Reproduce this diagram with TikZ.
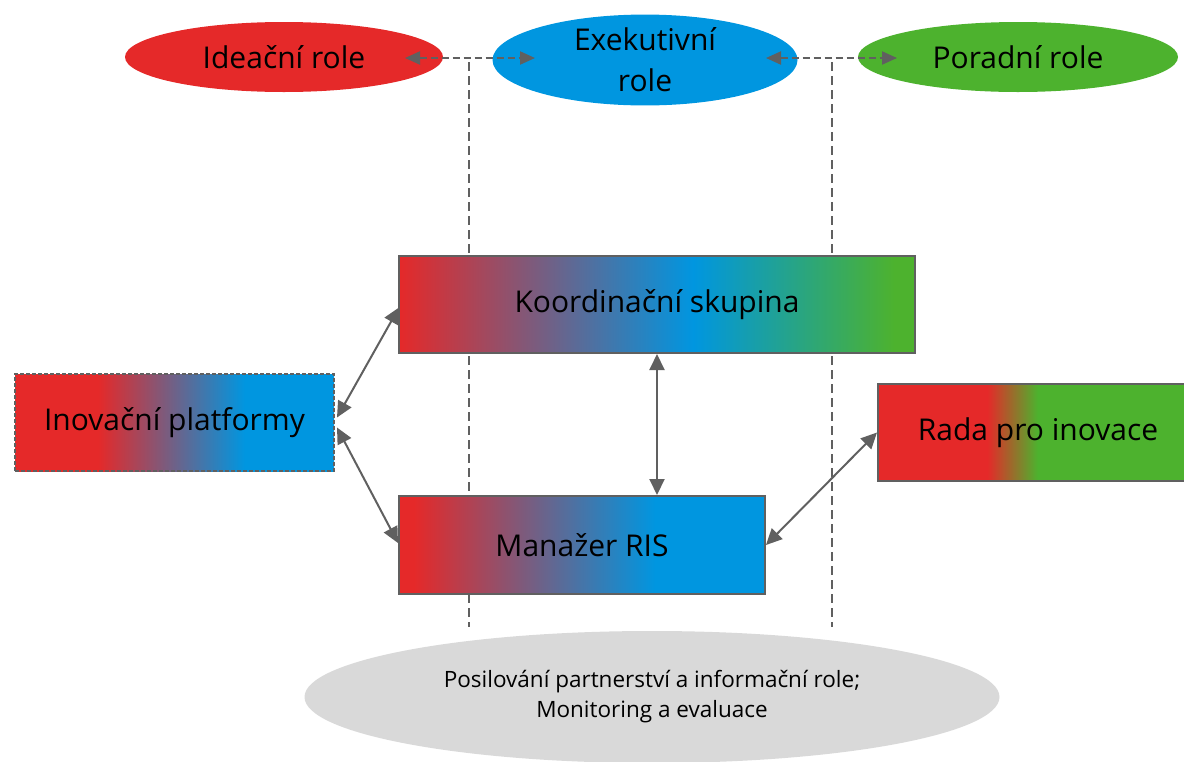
\documentclass[tikz,border=0pt]{standalone}
\usepackage{fontspec}
\setmainfont{Open Sans}
\usetikzlibrary{arrows.meta,shapes.geometric,calc}
\definecolor{cred}{RGB}{229,41,41}
\definecolor{cblue}{RGB}{0,150,224}
\definecolor{cgreen}{RGB}{77,178,46}
\definecolor{cline}{RGB}{96,96,96}
\definecolor{cgray}{RGB}{217,217,217}
\pgfdeclarehorizontalshading{kshade}{100bp}{color(0bp)=(cred); color(25bp)=(cred); color(53.5bp)=(cblue); color(73bp)=(cgreen); color(100bp)=(cgreen)}
\pgfdeclarehorizontalshading{ishade}{100bp}{color(0bp)=(cred); color(38bp)=(cred); color(61bp)=(cblue); color(100bp)=(cblue)}
\pgfdeclarehorizontalshading{mshade}{100bp}{color(0bp)=(cred); color(27bp)=(cred); color(60bp)=(cblue); color(100bp)=(cblue)}
\pgfdeclarehorizontalshading{rshade}{100bp}{color(0bp)=(cred); color(42.5bp)=(cred); color(50.6bp)=(cgreen); color(100bp)=(cgreen)}
\tikzset{
  bigtxt/.style={font=\fontsize{30}{41}\selectfont, text=black},
  roleell/.style={ellipse, inner sep=0pt, bigtxt, align=center},
  boxnode/.style={rectangle, draw=cline, line width=2pt, inner sep=0pt, bigtxt},
  biarrow/.style={draw=cline, line width=2pt, {Triangle[length=16pt,width=15pt]}-{Triangle[length=16pt,width=15pt]}},
  dasharrow/.style={draw=cline, line width=2pt, dash pattern=on 7pt off 4pt, {Triangle[length=15pt,width=13pt]}-{Triangle[length=15pt,width=13pt]}},
  dashline/.style={draw=cline, line width=1.6pt, dash pattern=on 9pt off 5pt},
}
\begin{document}
\begin{tikzpicture}[x=1pt,y=-1pt]
\useasboundingbox (0,0) rectangle (1184,761);
% top role ellipses
\node[roleell, fill=cred, minimum width=318pt, minimum height=70pt] (ide) at (284,57) {Ideační role};
\node[roleell, fill=cblue, minimum width=305pt, minimum height=90pt] (exe) at (645,60) {Exekutivní\\role};
\node[roleell, fill=cgreen, minimum width=320pt, minimum height=70pt] (por) at (1018,57) {Poradní role};
% bottom gray ellipse
\node[ellipse, fill=cgray, inner sep=0pt, minimum width=695pt, minimum height=132pt, align=center, font=\fontsize{22.5}{30}\selectfont] (pos) at (652,697) {Posilování partnerství a informační role;\\Monitoring a evaluace};
% dashed guide lines
\coordinate (v1t) at (469,62);
\coordinate (v1b) at (469,627);
\coordinate (v2t) at (832,62);
\coordinate (v2b) at (832,627);
\draw[dashline] (v1t) -- (v1b);
\draw[dashline] (v2t) -- (v2b);
% dashed arrows between roles
\coordinate (a1s) at (405,58);
\coordinate (a1e) at (535,58);
\coordinate (a2s) at (766,58);
\coordinate (a2e) at (897,58);
\draw[dasharrow] (a1s) -- (a1e);
\draw[dasharrow] (a2s) -- (a2e);
% boxes
\node[boxnode, shading=kshade, minimum width=516pt, minimum height=97pt] (ks) at (657,304.5) {Koordinační skupina};
\node[boxnode, shading=ishade, dashed, dash pattern=on 4pt off 2pt, minimum width=319pt, minimum height=97pt] (ip) at (174.5,422.5) {Inovační platformy};
\node[boxnode, shading=mshade, minimum width=366pt, minimum height=98pt] (mr) at (582,545) {Manažer RIS};
\node[boxnode, shading=rshade, minimum width=312pt, minimum height=97pt] (rp) at (1034,432.5) {\hspace*{8pt}Rada pro inovace};
% connectors
\draw[biarrow] ($(ip.east)+(2,-5)$) -- ($(ks.west)+(1,3)$);
\draw[biarrow] ($(ip.east)+(2,5)$) -- ($(mr.west)+(0,-2)$);
\draw[biarrow] (ks.south) -- (ks.south |- mr.north);
\draw[biarrow] (mr.east) -- (rp.west);
\end{tikzpicture}
\end{document}
